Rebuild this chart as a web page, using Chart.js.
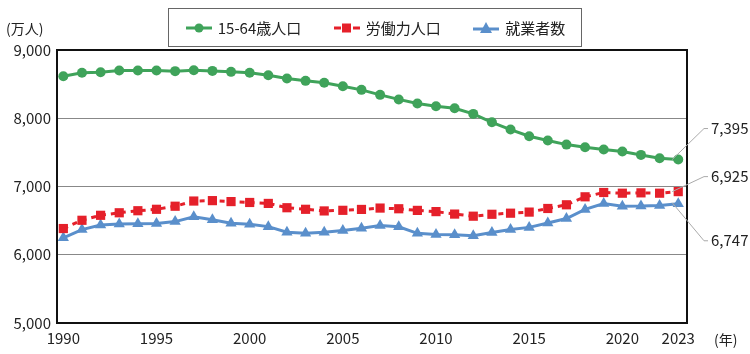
<!DOCTYPE html>
<html>
<head>
<meta charset="utf-8">
<script src="https://cdn.jsdelivr.net/npm/chart.js@4"></script>
<style>
  body { margin: 0; background: #fff; }
  #wrap { position: relative; width: 750px; height: 354px; }
  #legend {
    position: absolute; left: 168px; top: 8px; width: 414px; height: 39px;
    border: 1px solid #666; box-sizing: border-box;
    display: flex; align-items: center; justify-content: space-around;
    font-family: "Noto Sans CJK JP", "Noto Sans", sans-serif; font-size: 15px; color: #222;
  }
  #legend span { display: flex; align-items: center; }
  #legend svg { margin-right: 5px; }
</style>
</head>
<body>
<div id="wrap">
  <canvas id="chart" width="750" height="354"></canvas>
  <div id="legend"></div>
</div>
<script>
const years = [];
for (let y = 1990; y <= 2023; y++) years.push(y);

const seriesNames = ["15-64歳人口", "労働力人口", "就業者数"];

const pop1564 = [8616, 8666, 8675, 8700, 8700, 8700, 8690, 8704, 8694, 8680,
  8666, 8631, 8582, 8548, 8519, 8470, 8416, 8343, 8276, 8216,
  8176, 8147, 8064, 7941, 7834, 7736, 7673, 7614, 7575, 7541,
  7512, 7463, 7413, 7395];

const labourForce = [6384, 6505, 6578, 6615, 6645, 6666, 6711, 6787, 6793, 6779,
  6766, 6752, 6689, 6666, 6642, 6651, 6664, 6684, 6674, 6650,
  6632, 6596, 6565, 6593, 6609, 6625, 6678, 6732, 6849, 6912,
  6902, 6907, 6902, 6925];

const employed = [6249, 6369, 6436, 6450, 6453, 6457, 6486, 6557, 6514, 6462,
  6446, 6412, 6330, 6316, 6329, 6356, 6389, 6427, 6409, 6314,
  6298, 6293, 6280, 6326, 6371, 6401, 6465, 6530, 6664, 6750,
  6710, 6713, 6723, 6747];

const xTicks = [1990, 1995, 2000, 2005, 2010, 2015, 2020, 2023];
const yTicks = [5000, 6000, 7000, 8000, 9000];

const colors = ["#3fa35a", "#e5202a", "#5a8fcb"];
const FONT = '"Noto Sans CJK JP", "Noto Sans", sans-serif';

function pts(vals) { return vals.map((v, i) => ({ x: years[i], y: v })); }

// legend (html)
const icons = [
  '<svg width="28" height="12"><line x1="1" y1="6" x2="27" y2="6" stroke="' + colors[0] + '" stroke-width="3"/><circle cx="14" cy="6" r="4.5" fill="' + colors[0] + '"/></svg>',
  '<svg width="28" height="12"><line x1="1" y1="6" x2="8" y2="6" stroke="' + colors[1] + '" stroke-width="3"/><line x1="20" y1="6" x2="27" y2="6" stroke="' + colors[1] + '" stroke-width="3"/><rect x="9" y="1.5" width="9" height="9" fill="' + colors[1] + '"/></svg>',
  '<svg width="28" height="12"><line x1="1" y1="7" x2="27" y2="7" stroke="' + colors[2] + '" stroke-width="3"/><polygon points="14,0 20,11 8,11" fill="' + colors[2] + '"/></svg>'
];
document.getElementById('legend').innerHTML = seriesNames.map((n, i) => '<span>' + icons[i] + n + '</span>').join('');

const frameAndLabels = {
  id: 'frameAndLabels',
  afterDatasetsDraw(chart) {
    const ctx = chart.ctx;
    const a = chart.chartArea;
    ctx.save();
    ctx.strokeStyle = '#111';
    ctx.lineWidth = 2;
    ctx.strokeRect(a.left, a.top, a.right - a.left, a.bottom - a.top);

    // leader lines + end labels
    const offs = [-31, -15, 37];
    ctx.font = '15px ' + FONT;
    ctx.fillStyle = '#222';
    ctx.textBaseline = 'middle';
    chart.data.datasets.forEach((ds, i) => {
      const meta = chart.getDatasetMeta(i);
      const p = meta.data[meta.data.length - 1];
      const ly = p.y + offs[i];
      const sx = p.x - 6, sy = p.y + (i === 2 ? -1 : 0);
      ctx.strokeStyle = '#aaa';
      ctx.lineWidth = 1;
      ctx.beginPath();
      ctx.moveTo(sx, sy);
      ctx.lineTo(a.right + 17, ly);
      ctx.lineTo(a.right + 21, ly);
      ctx.stroke();
      const v = ds.data[ds.data.length - 1].y;
      ctx.fillText(v.toLocaleString('en-US'), a.right + 24, ly);
    });

    ctx.font = '14px ' + FONT;
    ctx.textBaseline = 'middle';
    ctx.textAlign = 'left';
    ctx.fillText('(万人)', 6, 29);
    ctx.fillText('(年)', a.right + 27, a.bottom + 17);
    ctx.restore();
  }
};

new Chart(document.getElementById('chart'), {
  type: 'line',
  data: {
    datasets: [{
      label: seriesNames[0],
      data: pts(pop1564),
      borderColor: colors[0],
      backgroundColor: colors[0],
      borderWidth: 3,
      pointStyle: 'circle',
      pointRadius: 5,
      pointBorderWidth: 0,
      fill: false
    }, {
      label: seriesNames[1],
      data: pts(labourForce),
      borderColor: colors[1],
      backgroundColor: colors[1],
      borderWidth: 3,
      borderDash: [5, 5],
      pointStyle: 'rect',
      pointRadius: 6.5,
      pointBorderWidth: 0,
      fill: false
    }, {
      label: seriesNames[2],
      data: pts(employed),
      borderColor: colors[2],
      backgroundColor: colors[2],
      borderWidth: 3,
      pointStyle: 'triangle',
      pointRadius: 6.5,
      pointBorderWidth: 0,
      fill: false
    }]
  },
  options: {
    responsive: false,
    animation: false,
    layout: { padding: { left: 0, right: 63, top: 50, bottom: 0 } },
    plugins: { legend: { display: false }, tooltip: { enabled: false } },
    scales: {
      x: {
        type: 'linear',
        min: 1989.66,
        max: 2023.47,
        afterBuildTicks(scale) { scale.ticks = xTicks.map(v => ({ value: v })); },
        afterFit(scale) { scale.height = 31; },
        grid: { display: false, drawTicks: false },
        border: { display: false },
        ticks: {
          color: '#222',
          font: { family: FONT, size: 15 },
          padding: 6,
          maxRotation: 0,
          autoSkip: false,
          callback: v => String(v)
        }
      },
      y: {
        min: 5000,
        max: 9000,
        afterBuildTicks(scale) { scale.ticks = yTicks.map(v => ({ value: v })); },
        afterFit(scale) { scale.width = 57; },
        grid: { color: '#888', lineWidth: 1, drawTicks: false },
        border: { display: false },
        ticks: {
          color: '#222',
          font: { family: FONT, size: 15 },
          padding: 6,
          callback: v => v.toLocaleString('en-US')
        }
      }
    }
  },
  plugins: [frameAndLabels]
});
</script>
</body>
</html>
